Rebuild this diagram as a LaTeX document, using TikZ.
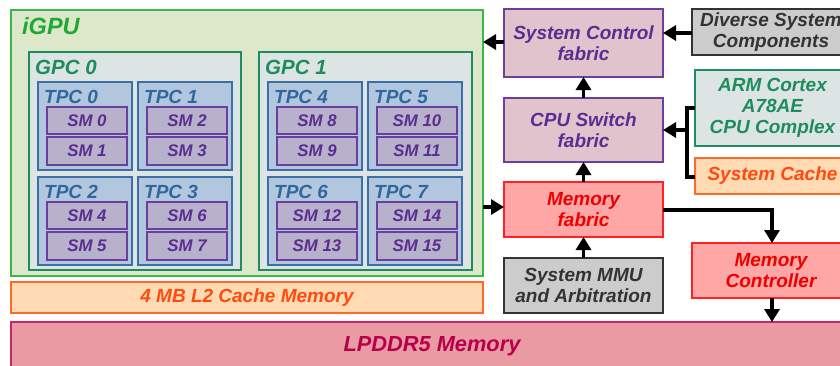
\documentclass[tikz,border=0pt]{standalone}
\usepackage{fontspec}
\setmainfont{Liberation Sans}
\usetikzlibrary{arrows.meta}
\definecolor{igpuFill}{HTML}{DDE8CB}\definecolor{igpuLine}{HTML}{3DB54A}\definecolor{igpuText}{HTML}{1DAA33}
\definecolor{gpcFill}{HTML}{DCE5E3}\definecolor{gpcLine}{HTML}{1E8C5E}
\definecolor{tpcFill}{HTML}{B2C6DD}\definecolor{tpcLine}{HTML}{3B6FA6}\definecolor{tpcText}{HTML}{2F68A0}
\definecolor{smFill}{HTML}{B8B1CC}\definecolor{smLine}{HTML}{6B3FA0}\definecolor{smText}{HTML}{5A2D90}
\definecolor{l2Fill}{HTML}{FFDAB3}\definecolor{l2Line}{HTML}{FF6A2A}\definecolor{l2Text}{HTML}{FF4A10}
\definecolor{ddrFill}{HTML}{EA9AA3}\definecolor{ddrLine}{HTML}{CC2266}\definecolor{ddrText}{HTML}{B8004A}
\definecolor{fabFill}{HTML}{E0C3CD}
\definecolor{memFill}{HTML}{FFA6A6}\definecolor{memLine}{HTML}{FF2222}\definecolor{memText}{HTML}{EE0000}
\definecolor{grFill}{HTML}{CCCCCC}\definecolor{grLine}{HTML}{333333}
\tikzset{
  blk/.style={draw, line width=1.4pt, inner sep=0pt, outer sep=0pt, anchor=north west, align=center,
    font=\bfseries\itshape\fontsize{19}{21}\selectfont},
  lbl/.style={anchor=base west, inner sep=0pt, font=\bfseries\itshape},
  conn/.style={line width=3.6pt, -{Triangle[length=13pt,width=15pt]}},
  plain/.style={line width=3.6pt},
  fabric/.style={blk, fill=fabFill, text=smText, draw=smLine},
  memb/.style={blk, fill=memFill, text=memText, draw=memLine},
  grayb/.style={blk, fill=grFill, text=grLine, draw=grLine},
  tpcb/.style={draw=tpcLine, fill=tpcFill, line width=1.3pt, anchor=north west, minimum width=94pt, minimum height=88pt, inner sep=0pt, outer sep=0pt},
  smb/.style={draw=smLine, fill=smFill, text=smText, line width=1.3pt, anchor=north west, minimum width=80pt, inner sep=0pt, outer sep=0pt, font=\bfseries\itshape\fontsize{16.8}{18}\selectfont},
}
\begin{document}
\begin{tikzpicture}[x=1pt,y=-1pt]
\useasboundingbox (0,0) rectangle (840,365);
\clip (0,0) rectangle (840,365);
% iGPU
\node[blk, draw=igpuLine, fill=igpuFill, minimum width=472pt, minimum height=266pt] (igpu) at (11,10) {};
\node[lbl, text=igpuText, font=\bfseries\itshape\fontsize{23.5}{25}\selectfont] (igpuL) at (22,34) {iGPU};
% GPCs
\node[blk, draw=gpcLine, fill=gpcFill, minimum width=212pt, minimum height=218pt] (gpc0) at (29,52) {};
\node[lbl, text=gpcLine, font=\bfseries\itshape\fontsize{20.5}{22}\selectfont] (gpc0L) at (35,74.5) {GPC 0};
\node[blk, draw=gpcLine, fill=gpcFill, minimum width=213pt, minimum height=218pt] (gpc1) at (259,52) {};
\node[lbl, text=gpcLine, font=\bfseries\itshape\fontsize{20.5}{22}\selectfont] (gpc1L) at (265,74.5) {GPC 1};
% TPCs and SMs
\foreach \t in {0,...,7}{
  \pgfmathtruncatemacro{\g}{int(\t/4)}
  \pgfmathtruncatemacro{\r}{int(mod(\t,4)/2)}
  \pgfmathtruncatemacro{\c}{mod(\t,2)}
  \pgfmathtruncatemacro{\tx}{38+230*\g+100*\c}
  \pgfmathtruncatemacro{\ty}{82+95*\r}
  \pgfmathtruncatemacro{\sa}{2*\t}
  \pgfmathtruncatemacro{\sb}{2*\t+1}
  \node[tpcb] (tpc\t) at (\tx,\ty) {};
  \node[lbl, text=tpcText, font=\bfseries\itshape\fontsize{19}{20}\selectfont] (tpc\t L) at (\tx+6,\ty+21.5) {TPC \t};
  \node[smb, minimum height=27pt] (sm\sa) at (\tx+9,\ty+25) {SM \sa};
  \node[smb, minimum height=28pt] (sm\sb) at (\tx+9,\ty+55) {SM \sb};
}
% L2 and LPDDR5
\node[blk, draw=l2Line, fill=l2Fill, text=l2Text, minimum width=472pt, minimum height=31pt] (l2) at (11,282) {4 MB L2 Cache Memory};
\node[blk, draw=ddrLine, fill=ddrFill, text=ddrText, minimum width=842pt, minimum height=48pt, font=\bfseries\itshape\fontsize{21.8}{24}\selectfont] (ddr) at (11,322) {LPDDR5 Memory};
% fabrics column
\node[fabric, minimum width=159pt, minimum height=68pt] (scf) at (504,9) {System Control\\fabric};
\node[fabric, minimum width=159pt, minimum height=64pt] (csf) at (504,98) {CPU Switch\\fabric};
\node[memb, minimum width=159pt, minimum height=55pt] (mf) at (504,182) {Memory\\fabric};
\node[grayb, minimum width=159pt, minimum height=55pt] (mmu) at (504,258) {System MMU\\and Arbitration};
% right column
\node[grayb, minimum width=158pt, minimum height=46pt] (dsc) at (692,9) {Diverse System\\Components};
\node[blk, draw=gpcLine, fill=gpcFill, text=gpcLine, minimum width=155pt, minimum height=76pt] (arm) at (695,70) {ARM Cortex\\A78AE\\CPU Complex};
\node[blk, draw=l2Line, fill=l2Fill, text=l2Text, minimum width=155pt, minimum height=36pt] (sc) at (695,158) {System Cache};
\node[memb, minimum width=158pt, minimum height=55pt] (mc) at (692,243) {Memory\\Controller};
% connectors
\draw[conn] (scf.west |- 0,42) -- (igpu.east |- 0,42);
\draw[conn] (dsc.west |- 0,33) -- (scf.east |- 0,33);
\draw[conn] (csf.north) -- (scf.south);
\draw[conn] (mf.north) -- (csf.south);
\draw[conn] (mmu.north) -- (mf.south);
\draw[conn] (igpu.east |- 0,207) -- (mf.west |- 0,207);
\coordinate (br) at (687,130);
\draw[plain] (arm.west |- 0,108) -| (br) |- (sc.west |- 0,177);
\draw[conn] (br) -- (csf.east |- br);
\draw[conn] (mf.east |- 0,210) -| (mc.north -| 772,0);
\draw[conn] (mc.south -| 772,0) -- (ddr.north -| 772,0);
\end{tikzpicture}
\end{document}
